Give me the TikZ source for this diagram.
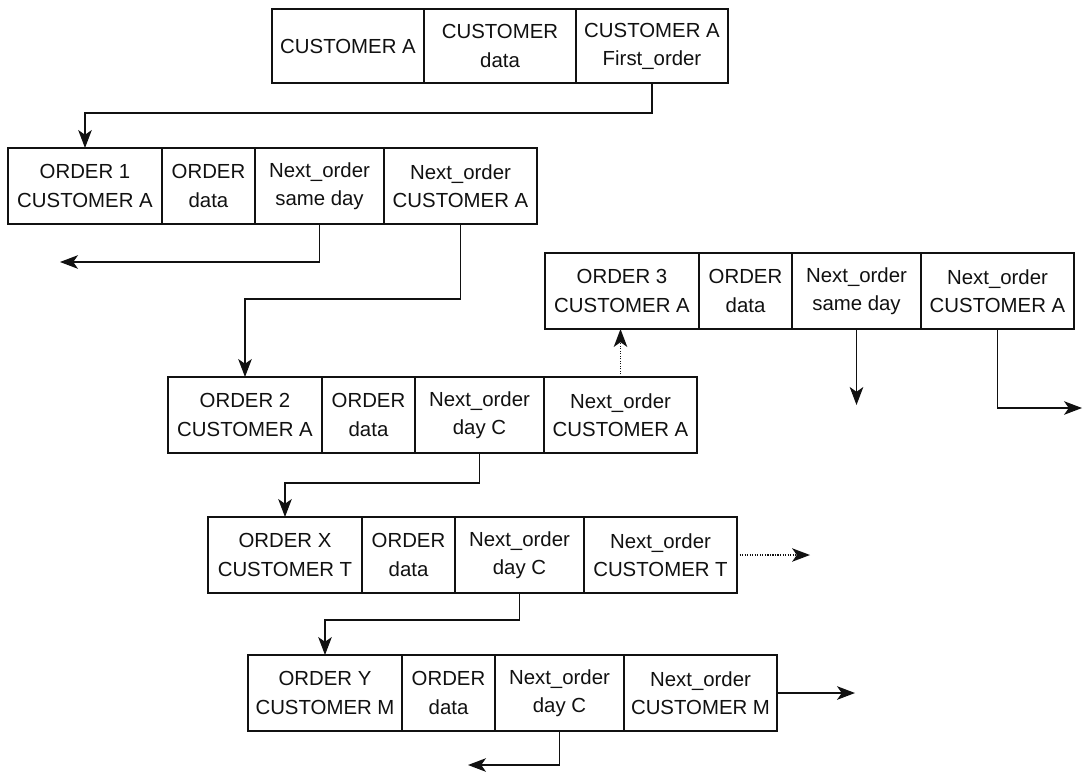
\documentclass[tikz,border=0pt]{standalone}
\usepackage{fontspec}
\setmainfont{Liberation Sans}
\usetikzlibrary{arrows.meta,positioning}
\definecolor{inkline}{HTML}{111111}
\newcommand{\cellfont}{\fontsize{14.5}{20}\selectfont}

\begin{document}
\begin{tikzpicture}[
  cell/.style={draw=inkline, line width=1pt, fill=white, align=center, inner sep=0pt,
               outer sep=0pt, minimum height=1.9cm, text=inkline, font=\cellfont},
  head/.style={cell, minimum width=3.8cm, minimum height=1.85cm},
  idcell/.style={cell, minimum width=3.85cm, anchor=north west},
  datcell/.style={cell, minimum width=2.325cm, right=0pt of #1},
  daycell/.style={cell, minimum width=3.225cm, right=0pt of #1},
  cuscell/.style={cell, minimum width=3.825cm, right=0pt of #1},
  arr/.style={-{Stealth[length=4.5mm,width=3.4mm,inset=1.2mm]}, draw=inkline, line width=0.8pt},
  darr/.style={-{Stealth[length=4.5mm,width=3.4mm,inset=1.2mm,line width=0pt]},
               draw=inkline, line width=0.8pt, densely dotted},
]
\useasboundingbox (0,0) rectangle (27.075,-19.275);

% ---- customer record ----
\node[head, anchor=north west](cnm) at (6.8,-0.225) {CUSTOMER A};
\node[head, right=0pt of cnm] (cdt) {CUSTOMER\\data};
\node[head, right=0pt of cdt] (cfo) {CUSTOMER A\\First\_order};

% ---- order 1 ----
\node[idcell]      (o1id)  at (0.2,-3.7)    {ORDER 1\\CUSTOMER A};
\node[datcell=o1id]  (o1dat) {ORDER\\data};
\node[daycell=o1dat] (o1day) {Next\_order\\same day};
\node[cuscell=o1day] (o1cus) {Next\_order\\CUSTOMER A};

% ---- order 3 ----
\node[idcell]      (o3id)  at (13.625,-6.325) {ORDER 3\\CUSTOMER A};
\node[datcell=o3id]  (o3dat) {ORDER\\data};
\node[daycell=o3dat] (o3day) {Next\_order\\same day};
\node[cuscell=o3day] (o3cus) {Next\_order\\CUSTOMER A};

% ---- order 2 ----
\node[idcell]      (o2id)  at (4.2,-9.425)  {ORDER 2\\CUSTOMER A};
\node[datcell=o2id]  (o2dat) {ORDER\\data};
\node[daycell=o2dat] (o2day) {Next\_order\\day C};
\node[cuscell=o2day] (o2cus) {Next\_order\\CUSTOMER A};

% ---- order X ----
\node[idcell]      (oXid)  at (5.2,-12.925) {ORDER X\\CUSTOMER T};
\node[datcell=oXid]  (oXdat) {ORDER\\data};
\node[daycell=oXdat] (oXday) {Next\_order\\day C};
\node[cuscell=oXday] (oXcus) {Next\_order\\CUSTOMER T};

% ---- order Y ----
\node[idcell]      (oYid)  at (6.2,-16.375) {ORDER Y\\CUSTOMER M};
\node[datcell=oYid]  (oYdat) {ORDER\\data};
\node[daycell=oYdat] (oYday) {Next\_order\\day C};
\node[cuscell=oYday] (oYcus) {Next\_order\\CUSTOMER M};

% ---- open ends ----
\coordinate (o1sd) at (1.5,-6.55);
\coordinate[below=1.9cm of o3day] (o3sd);
\coordinate (o3nx) at (27.05,-10.2);
\coordinate[right=1.825cm of oXcus] (oXnx);
\coordinate[right=1.95cm of oYcus] (oYnx);
\coordinate (oYsd) at (11.7,-19.125);

% ---- pointers ----
\draw[arr] (cfo.south) -- ++(0,-0.75) -| (o1id.north);
\draw[arr] (o1day.south) |- (o1sd);
\draw[arr] (o1cus.south) -- ++(0,-1.875) -| (o2id.north);
\draw[darr] (o2cus.north) -- (o2cus.north |- o3id.south);
\draw[arr] (o3day.south) -- (o3sd);
\draw[arr] (o3cus.south) |- (o3nx);
\draw[arr] (o2day.south) -- ++(0,-0.75) -| (oXid.north);
\draw[darr] (oXcus.east) -- (oXnx);
\draw[arr] (oXday.south) -- ++(0,-0.675) -| (oYid.north);
\draw[arr] (oYcus.east) -- (oYnx);
\draw[arr] (oYday.south) |- (oYsd);

\end{tikzpicture}
\end{document}
